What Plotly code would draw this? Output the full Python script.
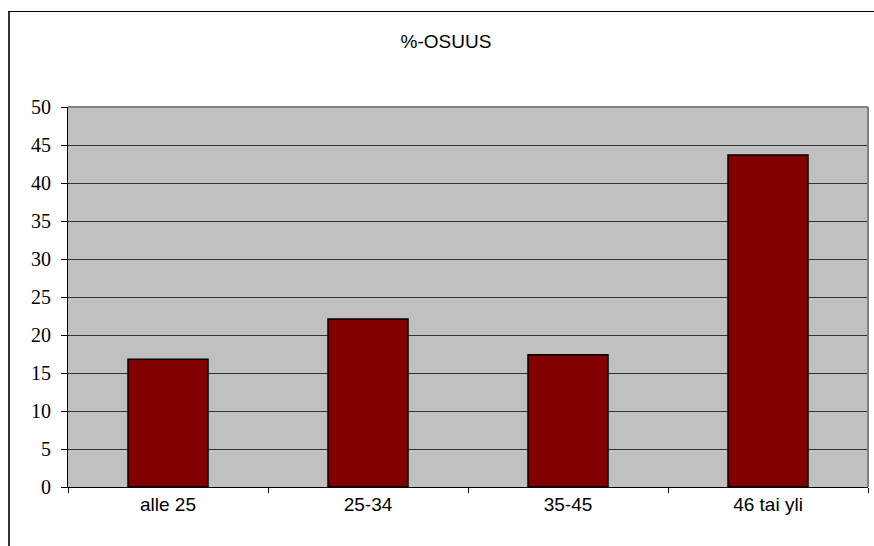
import plotly.graph_objects as go

# Age groups and their share (%)
categories = ["alle 25", "25-34", "35-45", "46 tai yli"]
shares = [16.8, 22.1, 17.4, 43.7]
y_ticks = [0, 5, 10, 15, 20, 25, 30, 35, 40, 45, 50]

W, H = 874, 546
ML, MR, MT, MB = 68, 6, 107, 59
pw, ph = W - ML - MR, H - MT - MB


def px_to_paper_x(px):
    return (px - ML) / pw


def px_to_paper_y(py):
    return (H - MB - py) / ph


fig = go.Figure(
    go.Bar(
        x=categories,
        y=shares,
        marker=dict(color="#800000", line=dict(color="#000000", width=1.5)),
        width=0.4,
    )
)

fig.update_layout(
    width=W,
    height=H,
    margin=dict(l=ML, r=MR, t=MT, b=MB),
    paper_bgcolor="white",
    plot_bgcolor="#C0C0C0",
    showlegend=False,
    title=dict(
        text="%-OSUUS",
        x=px_to_paper_x(446),
        xref="paper",
        xanchor="center",
        y=1 - 41 / H,
        yref="container",
        yanchor="middle",
        font=dict(family="Liberation Sans, Arial", size=19, color="#000000"),
    ),
    xaxis=dict(
        type="category",
        tickson="boundaries",
        ticks="outside",
        ticklen=5,
        tickcolor="#000000",
        tickwidth=1,
        showline=True,
        linecolor="#000000",
        linewidth=1,
        showgrid=False,
        tickfont=dict(family="Liberation Sans, Arial", size=19, color="#000000"),
    ),
    yaxis=dict(
        range=[0, 50],
        tickvals=y_ticks,
        ticktext=[str(v) for v in y_ticks],
        ticks="outside",
        ticklen=6,
        tickcolor="#000000",
        tickwidth=1,
        showline=True,
        linecolor="#000000",
        linewidth=1,
        showgrid=True,
        gridcolor="#333333",
        gridwidth=1,
        zeroline=False,
        ticklabelstandoff=6,
        tickfont=dict(family="Liberation Serif, Times New Roman", size=20, color="#000000"),
    ),
    shapes=[
        # gray frame on top and right of the plot area
        dict(type="line", xref="paper", yref="paper", x0=0, x1=1, y0=1, y1=1,
             line=dict(color="#808080", width=2)),
        dict(type="line", xref="paper", yref="paper", x0=1, x1=1, y0=0, y1=1,
             line=dict(color="#808080", width=2)),
        # chart border: left and top edges
        dict(type="line", xref="paper", yref="paper",
             x0=px_to_paper_x(9), x1=px_to_paper_x(9),
             y0=px_to_paper_y(560), y1=px_to_paper_y(11),
             line=dict(color="#333333", width=2), layer="above"),
        dict(type="line", xref="paper", yref="paper",
             x0=px_to_paper_x(8), x1=px_to_paper_x(874),
             y0=px_to_paper_y(11.5), y1=px_to_paper_y(11.5),
             line=dict(color="#000000", width=1.2), layer="above"),
    ],
)

fig.write_html("out.html")
